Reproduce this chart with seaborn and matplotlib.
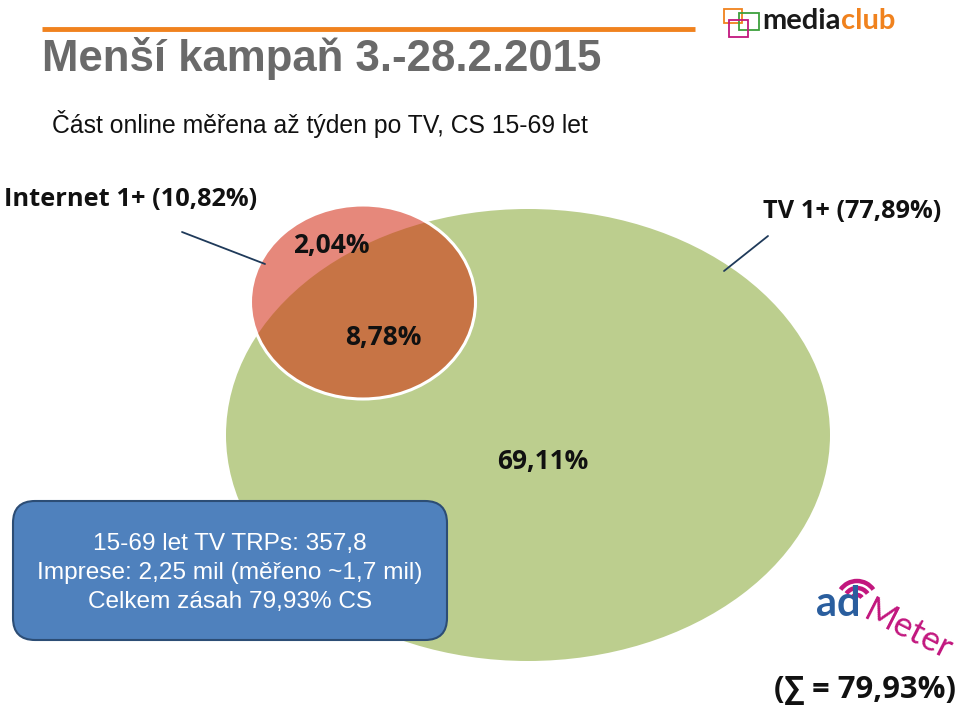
import matplotlib
matplotlib.use("Agg")
import matplotlib.pyplot as plt
import seaborn as sns
from matplotlib.patches import Ellipse, FancyBboxPatch, Rectangle, Arc

sns.set_theme(style="white")
plt.rcParams['font.family'] = ['Liberation Sans', 'DejaVu Sans']

# ---- data ----
title = "Menší kampaň 3.-28.2.2015"
subtitle = "Část online měřena až týden po TV, CS 15-69 let"
set_labels = ["Internet 1+ (10,82%)", "TV 1+ (77,89%)"]
set_totals = [10.82, 77.89]
region_names = ["Internet only", "Internet & TV", "TV only"]
region_values = [2.04, 8.78, 69.11]
total_reach = 79.93
box_lines = ["15-69 let TV TRPs: 357,8",
             "Imprese: 2,25 mil (měřeno ~1,7 mil)",
             "Celkem zásah 79,93% CS"]

def pct(v):
    return f"{v:.2f}".replace(".", ",") + "%"

W, H = 960, 712
fig = plt.figure(figsize=(W / 100, H / 100), dpi=100)
ax = fig.add_axes([0, 0, 1, 1])
ax.set_xlim(0, W)
ax.set_ylim(H, 0)
ax.axis("off")

green = "#BCCE8E"
red = "#E6887B"
brown = "#C77445"

# TV ellipse
tv = Ellipse((528, 435), 604, 452, facecolor=green, edgecolor="none", zorder=1)
ax.add_patch(tv)
# Internet circle
inet = Ellipse((363, 302), 225, 194, facecolor=red, edgecolor="none", zorder=2)
ax.add_patch(inet)
# overlap
ov = Ellipse((363, 302), 225, 194, facecolor=brown, edgecolor="none", zorder=3)
ax.add_patch(ov)
ov.set_clip_path(Ellipse((528, 435), 604, 452, transform=ax.transData))
# white outline
ax.add_patch(Ellipse((363, 302), 225, 194, facecolor="none", edgecolor="white", lw=2.2, zorder=4))

lab_font = ['Open Sans', 'DejaVu Sans']
reg_pos = [(331, 246), (383, 338), (543, 462)]
for (x, y), v in zip(reg_pos, region_values):
    ax.text(x, y, pct(v), ha="center", va="center", fontsize=19,
            fontweight="bold", family=lab_font, color="#111111", zorder=5)

ax.text(4, 200, set_labels[0], ha="left", va="center", fontsize=18.3,
        fontweight="bold", family=lab_font, color="#111111")
ax.text(941, 212, set_labels[1], ha="right", va="center", fontsize=18.3,
        fontweight="bold", family=lab_font, color="#111111")
ax.plot([182, 265], [232, 264], color="#1F3A5A", lw=1.3, zorder=6)
ax.plot([768, 724], [236, 271], color="#1F3A5A", lw=1.3, zorder=6)

ax.text(956, 690, f"(∑ = {pct(total_reach)})", ha="right", va="center", fontsize=22.2,
        fontweight="bold", family=lab_font, color="#111111")

# title area
ax.plot([42, 695], [29, 29], color="#F0821E", lw=3.5, solid_capstyle="butt")
ax.text(42, 58, title, ha="left", va="center", fontsize=31.5, fontweight="bold",
        color="#6A6A6A")
ax.text(52, 124, subtitle, ha="left", va="center", fontsize=17.8, color="#111111")

# info box
box = FancyBboxPatch((13, 501), 434, 139, boxstyle="round,pad=0,rounding_size=22",
                     facecolor="#4F81BD", edgecolor="#2C4D75", lw=1.5, zorder=7)
ax.add_patch(box)
for i, line in enumerate(box_lines):
    ax.text(230, 544 + i * 29, line, ha="center", va="center", fontsize=17.6,
            color="white", zorder=8)

# mediaclub logo
ax.add_patch(Rectangle((724, 9), 18, 14, facecolor="none", edgecolor="#F0821E", lw=1.3))
ax.add_patch(Rectangle((739, 13), 20, 17, facecolor="none", edgecolor="#3DA03D", lw=1.3))
ax.add_patch(Rectangle((729, 20), 19, 17, facecolor="none", edgecolor="#C2177E", lw=1.3))
t1 = ax.text(762, 29, "media", ha="left", va="baseline", fontsize=21,
             family=['Lato', 'DejaVu Sans'], fontweight="bold", color="#1A1A1A")
ax.annotate("club", xy=(1, 0), xycoords=t1, ha="left", va="bottom", fontsize=21,
            family=['Lato', 'DejaVu Sans'], fontweight="bold", color="#F0821E")

# adMeter logo
for r in (6, 13, 20):
    ax.add_patch(Arc((857, 601), 2 * r, 2 * r, theta1=215, theta2=325, color="#C2177E", lw=3.2))
ax.text(816, 616, "ad", ha="left", va="baseline", fontsize=30,
        family=['Lato', 'DejaVu Sans'], color="#2A5E9E", fontweight="bold")
ax.text(862, 618, "Meter", ha="left", va="baseline", fontsize=25,
        family=['Lato', 'DejaVu Sans'], color="#C2177E", rotation=-27,
        rotation_mode="anchor")

fig.savefig("out.png", dpi=100)
